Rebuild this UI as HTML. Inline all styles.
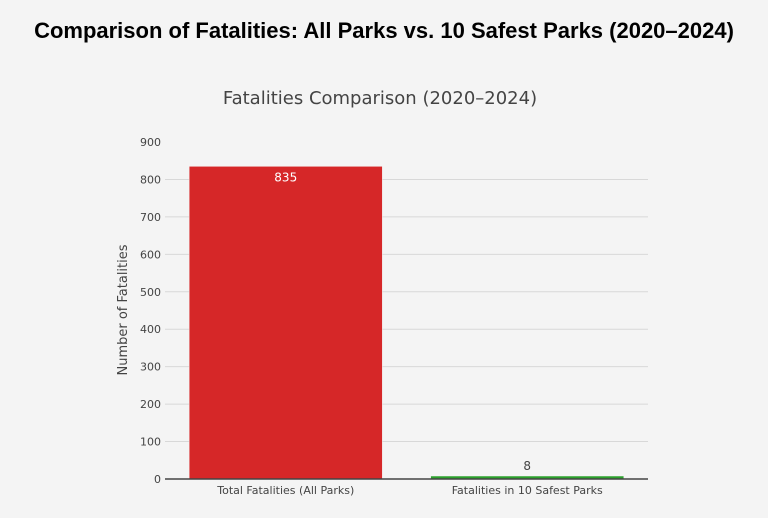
<!DOCTYPE html>
<html><head><meta charset="utf-8"><style>
body{margin:0;background:#f4f4f4;}
svg{display:block;}
</style></head><body>
<svg width="768" height="518" xmlns="http://www.w3.org/2000/svg">
<rect width="768" height="518" fill="#f4f4f4"/>
<text x="384" y="38" text-anchor="middle" font-family="Liberation Sans, Arial, sans-serif" font-weight="bold" font-size="22" fill="#000">Comparison of Fatalities: All Parks vs. 10 Safest Parks (2020–2024)</text>
<text x="380" y="104" text-anchor="middle" font-family="DejaVu Sans, sans-serif" font-size="18" fill="#444">Fatalities Comparison (2020–2024)</text>
<text transform="translate(127,310) rotate(-90)" text-anchor="middle" font-family="DejaVu Sans, sans-serif" font-size="13" fill="#444">Number of Fatalities</text>
<g id="grid"></g><g id="bars"></g><g id="labels"></g>
<line x1="165" x2="648" y1="479" y2="479" stroke="#444" stroke-width="1.5"/>
</svg>
<script>
const categories=["Total Fatalities (All Parks)","Fatalities in 10 Safest Parks"];
const values=[835,8];
const barColors=["#d62728","#2ca02c"];
const yTicks=[0,100,200,300,400,500,600,700,800,900];
const NS="http://www.w3.org/2000/svg";
const x0=165,x1=648,yBase=479,yTop=142,yMax=900;
const y=v=>yBase-(yBase-yTop)*v/yMax;
const bw=(x1-x0)/categories.length;
const xc=i=>x0+bw*(i+0.5);
function mk(tag,attrs,parent,text){const e=document.createElementNS(NS,tag);for(const k in attrs)e.setAttribute(k,attrs[k]);if(text!==undefined)e.textContent=text;parent.appendChild(e);return e;}
const grid=document.getElementById('grid'),bars=document.getElementById('bars'),labels=document.getElementById('labels');
yTicks.forEach(t=>{
  if(t>0&&t<yMax){const l=mk('line',{x1:x0,x2:x1,y1:y(t),y2:y(t),stroke:'#d8d8d8','stroke-width':1},grid);
  
  }
  const tx=mk('text',{x:x0-4,y:y(t)+4,'text-anchor':'end','font-family':'DejaVu Sans, sans-serif','font-size':11,fill:'#444'},labels,String(t));
  
  
});
categories.forEach((c,i)=>{
  const w=bw*0.8,bx=xc(i)-w/2,by=y(values[i]);
  const r=mk('rect',{x:bx,y:by,width:w,height:yBase-by,fill:barColors[i],stroke:'#f4f4f4','stroke-width':0.5},bars);
  
  
  const inside=(yBase-by)>30;
  const v=mk('text',{x:xc(i),y:inside?by+15:by-6,'text-anchor':'middle','font-family':'DejaVu Sans, sans-serif','font-size':12,fill:inside?'#fff':'#444'},labels,String(values[i]));
  
  
  const xl=mk('text',{x:xc(i),y:yBase+15,'text-anchor':'middle','font-family':'DejaVu Sans, sans-serif','font-size':11,fill:'#444'},labels,c);
  
  
});
</script>
</body></html>
